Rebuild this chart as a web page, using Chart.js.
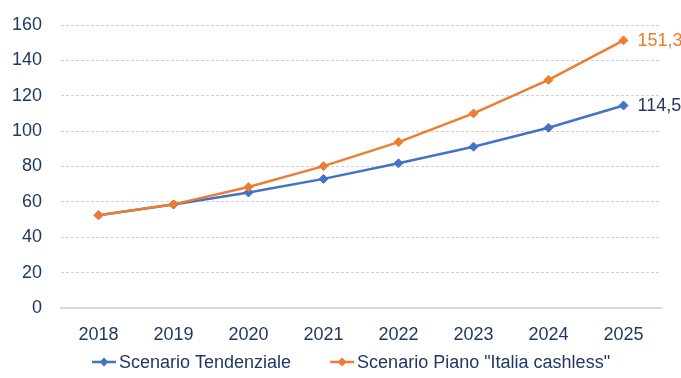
<!DOCTYPE html>
<html>
<head>
<meta charset="utf-8">
<script src="https://cdn.jsdelivr.net/npm/chart.js@4.4.1/dist/chart.umd.min.js"></script>
<style>
    html, body { margin: 0; padding: 0; background: #fff; }
    #wrap { width: 681px; height: 378px; position: relative; }
</style>
</head>
<body>
<div id="wrap"><canvas id="chart"></canvas></div>
<script>
    'use strict';

    const years = ['2018', '2019', '2020', '2021', '2022', '2023', '2024', '2025'];
    const tendenziale = [52.5, 58.5, 65.3, 73.0, 81.8, 91.2, 101.9, 114.5];
    const cashless = [52.4, 58.6, 68.4, 80.2, 93.8, 110.0, 129.0, 151.3];
    const endLabels = ['114,5', '151,3'];
    const seriesNames = ['Scenario Tendenziale', 'Scenario Piano "Italia cashless"'];

    const BLUE = '#4472C4';
    const ORANGE = '#ED7D31';
    const NAVY = '#203864';
    const FONT = '"Liberation Sans", Arial, sans-serif';

    // value at the end of each line
    const endLabelPlugin = {
        id: 'endLabels',
        afterDatasetsDraw(chart) {
            const ctx = chart.ctx;
            ctx.save();
            ctx.font = '18px ' + FONT;
            ctx.textBaseline = 'middle';
            ctx.textAlign = 'left';
            chart.data.datasets.forEach(function(ds, i) {
                const meta = chart.getDatasetMeta(i);
                const pt = meta.data[meta.data.length - 1];
                ctx.fillStyle = ds.labelColor;
                ctx.fillText(endLabels[i], pt.x + 14, pt.y + 1);
            });
            ctx.restore();
        }
    };

    // legend with line + diamond markers
    const legendPlugin = {
        id: 'lineLegend',
        afterDraw(chart) {
            const ctx = chart.ctx;
            ctx.save();
            ctx.font = '18px ' + FONT;
            ctx.textBaseline = 'middle';
            const lineLen = 24, gapText = 3, gapItem = 39;
            const items = chart.data.datasets.map(function(ds) {
                return { ds: ds, w: lineLen + gapText + ctx.measureText(ds.label).width };
            });
            const total = items.reduce(function(s, it) { return s + it.w; }, 0) + gapItem * (items.length - 1);
            let x = 351 - total / 2;
            const y = 362;
            items.forEach(function(it) {
                ctx.strokeStyle = it.ds.borderColor;
                ctx.lineWidth = 2.5;
                ctx.beginPath();
                ctx.moveTo(x, y);
                ctx.lineTo(x + lineLen, y);
                ctx.stroke();
                ctx.fillStyle = it.ds.borderColor;
                ctx.beginPath();
                ctx.moveTo(x + lineLen / 2, y - 4.5);
                ctx.lineTo(x + lineLen / 2 + 4.5, y);
                ctx.lineTo(x + lineLen / 2, y + 4.5);
                ctx.lineTo(x + lineLen / 2 - 4.5, y);
                ctx.closePath();
                ctx.fill();
                ctx.fillStyle = NAVY;
                ctx.textAlign = 'left';
                ctx.fillText(it.ds.label, x + lineLen + gapText, y + 1);
                x += it.w + gapItem;
            });
            ctx.restore();
        }
    };

    function series(label, data, color, labelColor, order) {
        return {
            label: label, data: data, order: order,
            borderColor: color, backgroundColor: color, labelColor: labelColor,
            borderWidth: 2.5, pointStyle: 'rectRot', pointRadius: 4.5,
            pointBorderWidth: 1, pointBackgroundColor: color, pointBorderColor: color,
            tension: 0
        };
    }

    new Chart(document.getElementById('chart'), {
        type: 'line',
        data: {
            labels: years,
            datasets: [
                series(seriesNames[0], tendenziale, BLUE, NAVY, 2),
                series(seriesNames[1], cashless, ORANGE, ORANGE, 1)
            ]
        },
        options: {
            responsive: true, maintainAspectRatio: false, animation: false,
            layout: { padding: { left: 12, right: 20, top: 25, bottom: 33 } },
            plugins: { legend: { display: false }, tooltip: { enabled: false } },
            scales: {
                x: {
                    offset: true,
                    afterFit: function(scale) { scale.height = 37; },
                    grid: { display: false, drawTicks: false },
                    border: { display: true, color: '#D9D9D9', width: 2 },
                    ticks: { color: NAVY, padding: 16, font: { family: FONT, size: 18 } }
                },
                y: {
                    min: 0, max: 160,
                    afterFit: function(scale) { scale.width = 49; scale.paddingTop = 0; },
                    grid: { color: '#D0D0D0', lineWidth: 1, drawTicks: false },
                    border: { display: false, dash: [3, 2] },
                    ticks: { stepSize: 20, color: NAVY, padding: 19, font: { family: FONT, size: 18 } }
                }
            }
        },
        plugins: [endLabelPlugin, legendPlugin]
    });
</script>
</body>
</html>
